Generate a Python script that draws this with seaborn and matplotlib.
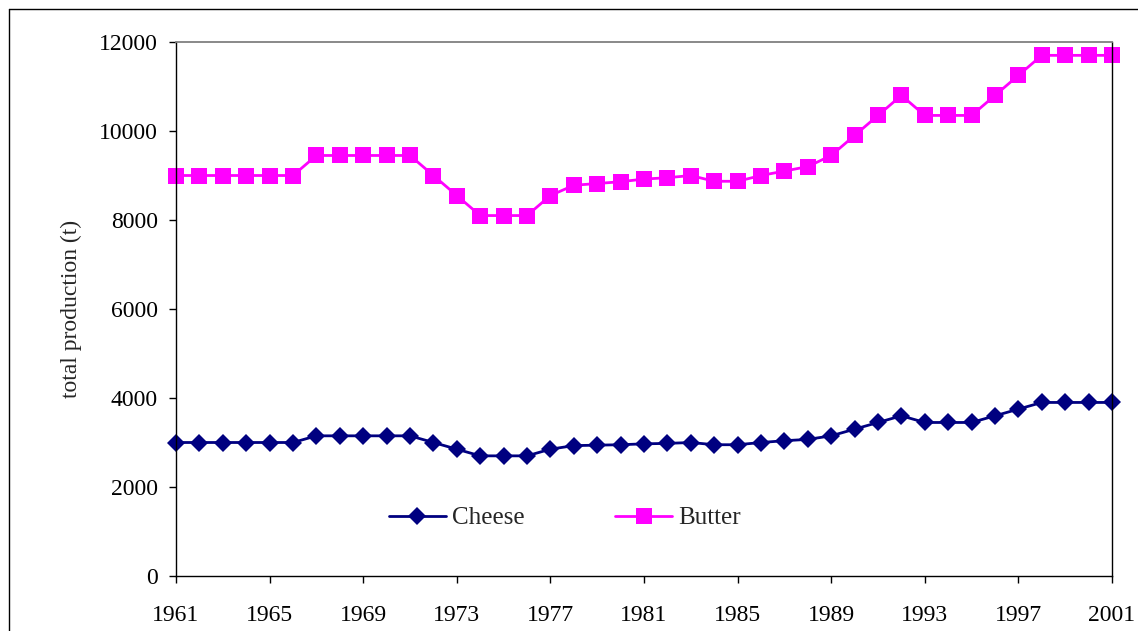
import matplotlib
matplotlib.use("Agg")
import matplotlib.pyplot as plt
import seaborn as sns
import pandas as pd
from matplotlib.lines import Line2D

# Data
years = list(range(1961, 2002))
cheese = [3000, 3000, 3000, 3000, 3000, 3000,
          3150, 3150, 3150, 3150, 3150,
          3000, 2850, 2700, 2700, 2700, 2850,
          2930, 2940, 2950, 2970, 2980, 3000,
          2950, 2950, 3000, 3040, 3070, 3150,
          3300, 3450, 3600, 3450, 3450, 3450,
          3600, 3750, 3900, 3900, 3900, 3900]
butter = [9000, 9000, 9000, 9000, 9000, 9000,
          9450, 9450, 9450, 9450, 9450,
          9000, 8550, 8100, 8100, 8100, 8550,
          8780, 8820, 8860, 8920, 8950, 9000,
          8870, 8870, 9000, 9100, 9200, 9450,
          9900, 10350, 10800, 10350, 10350, 10350,
          10800, 11250, 11700, 11700, 11700, 11700]
xticks = list(range(1961, 2002, 4))
yticks = list(range(0, 12001, 2000))

df = pd.DataFrame({"year": years, "Cheese": cheese, "Butter": butter})

sns.set_style("white")
plt.rcParams['font.family'] = ['Liberation Serif', 'DejaVu Serif']
plt.rcParams['font.size'] = 17

W, H = 1138, 631
fig = plt.figure(figsize=(W / 100, H / 100), dpi=100)
ax = fig.add_axes([176 / W, 1 - 576 / H, (1112 - 176) / W, (576 - 42) / H])

sns.lineplot(data=df, x="year", y="Cheese", ax=ax, color="#000080", marker="D",
             markersize=9, markeredgewidth=0, linewidth=2, label="Cheese", clip_on=False)
sns.lineplot(data=df, x="year", y="Butter", ax=ax, color="#FF00FF", marker="s",
             markersize=11.5, markeredgewidth=0, linewidth=2, label="Butter", clip_on=False)

ax.set_xlim(1961, 2001)
ax.set_ylim(0, 12000)
ax.set_xticks(xticks)
ax.set_yticks(yticks)
ax.set_xlabel("")
ax.set_ylabel("total production (t)", labelpad=12)

for s in ["left", "bottom", "right"]:
    ax.spines[s].set_color("black")
    ax.spines[s].set_linewidth(1)
ax.spines["top"].set_color("#808080")
ax.spines["top"].set_linewidth(1.3)

ax.tick_params(axis="x", bottom=True, direction="out", length=5, width=1, pad=16, colors="black")
ax.tick_params(axis="y", left=True, direction="out", length=5, width=1, pad=8, colors="black")

ax.legend(loc="center left", bbox_to_anchor=(376 / W, 1 - 518 / H), bbox_transform=fig.transFigure,
          ncol=2, frameon=False, borderpad=0, handlelength=2.3, handletextpad=0.25,
          columnspacing=3.6, fontsize=18)

# outer chart frame (top and left edges visible)
fig.add_artist(Line2D([9 / W, 9 / W], [0, 1 - 9 / H], transform=fig.transFigure, color="black", lw=1))
fig.add_artist(Line2D([9 / W, 1], [1 - 9 / H, 1 - 9 / H], transform=fig.transFigure, color="black", lw=1))

fig.savefig("out.png", dpi=100)
